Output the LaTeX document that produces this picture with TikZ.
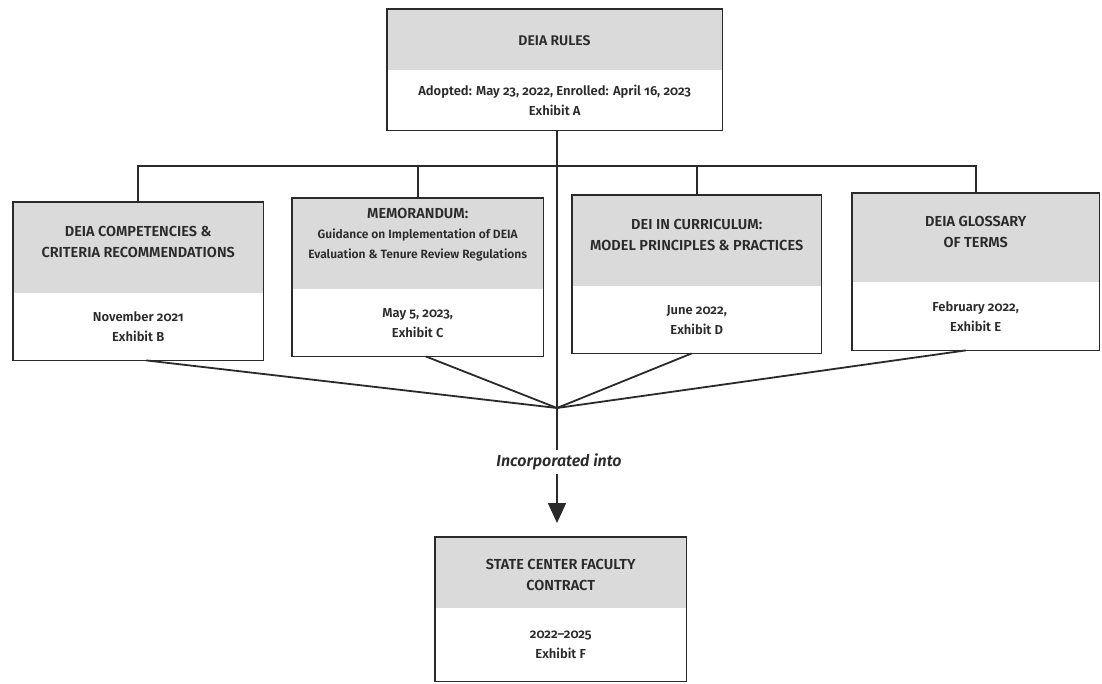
\documentclass[tikz,border=0pt]{standalone}
\usepackage{fontspec}
\setmainfont{Fira Sans}[Numbers=OldStyle, BoldFont={Fira Sans SemiBold}, BoldItalicFont={Fira Sans SemiBold Italic}]
\usetikzlibrary{arrows.meta,calc}
\definecolor{headgray}{HTML}{DADADA}
\definecolor{ink}{HTML}{2A2A2A}
\tikzset{
  head/.style={fill=headgray, draw=none, anchor=north west, inner sep=0pt, align=center,
    text=ink},
  body/.style={fill=white, draw=none, anchor=north west, inner sep=0pt, align=center,
    font=\bfseries\fontsize{13}{20}\selectfont, text=ink},
  ttl/.style={font=\bfseries\fontsize{14.5}{21}\selectfont, text=ink, align=center, inner sep=0pt},
  frame/.style={draw=ink, line width=1.8pt},
  conn/.style={draw=ink, line width=1.8pt},
}
\begin{document}
\begin{tikzpicture}[x=1pt,y=-1pt]
\useasboundingbox (0,0) rectangle (1102,683);
\fill[white] (0,0) rectangle (1102,683);
% top box
\node[head, minimum width=335pt, minimum height=61pt] (toph) at (387,9) {};
\node[ttl, font=\bfseries\fontsize{14}{17}\selectfont] (topt) at (554.5,41) {DEIA RULES};
\node[body, minimum width=335pt, minimum height=60pt] (topb) at (387,70) {Adopted: May 23, 2022, Enrolled: April 16, 2023\\Exhibit A};
\draw[frame] (toph.north west) rectangle (topb.south east);
% box 1
\node[head, minimum width=250pt, minimum height=91pt] (b1h) at (13,202) {};
\node[ttl] (b1t) at ($(b1h.center)+(0,-6)$) {DEIA COMPETENCIES \&\\CRITERIA RECOMMENDATIONS};
\node[body, minimum width=250pt, minimum height=67pt] (b1b) at (13,293) {November 2021\\Exhibit B};
\draw[frame] (b1h.north west) rectangle (b1b.south east);
% box 2
\node[head, minimum width=251pt, minimum height=91pt] (b2h) at (292,198) {};
\node[ttl, font=\bfseries\fontsize{14.5}{20}\selectfont] (b2t) at ($(b2h.center)+(0,-9)$) {MEMORANDUM:\\{\fontsize{12}{20}\selectfont Guidance on Implementation of DEIA}\\{\fontsize{12}{20}\selectfont Evaluation \& Tenure Review Regulations}};
\node[body, minimum width=251pt, minimum height=67pt] (b2b) at (292,289) {May 5, 2023,\\Exhibit C};
\draw[frame] (b2h.north west) rectangle (b2b.south east);
% box 3
\node[head, minimum width=249pt, minimum height=91pt] (b3h) at (572,195) {};
\node[ttl] (b3t) at ($(b3h.center)+(0,-6)$) {DEI IN CURRICULUM:\\MODEL PRINCIPLES \& PRACTICES};
\node[body, minimum width=249pt, minimum height=67pt] (b3b) at (572,286) {June 2022,\\Exhibit D};
\draw[frame] (b3h.north west) rectangle (b3b.south east);
% box 4
\node[head, minimum width=247pt, minimum height=89pt] (b4h) at (852,193) {};
\node[ttl] (b4t) at ($(b4h.center)+(0,-6)$) {DEIA GLOSSARY\\OF TERMS};
\node[body, minimum width=247pt, minimum height=68pt] (b4b) at (852,282) {February 2022,\\Exhibit E};
\draw[frame] (b4h.north west) rectangle (b4b.south east);
% bottom box
\node[head, minimum width=251pt, minimum height=71pt] (bh) at (435,537) {};
\node[ttl] (bt) at ($(bh.center)+(0,2)$) {STATE CENTER FACULTY\\CONTRACT};
\node[body, minimum width=251pt, minimum height=73pt] (bb) at (435,608) {2022--2025\\Exhibit F};
\draw[frame] (bh.north west) rectangle (bb.south east);
% connectors
\coordinate (bus) at (0,166);
\coordinate (m) at (557,408);
\draw[conn] (b1h.north) -- (b1h.north |- bus) -- (b4h.north |- bus) -- (b4h.north);
\draw[conn] (b2h.north) -- (b2h.north |- bus);
\draw[conn] (b3h.north) -- (b3h.north |- bus);
\draw[conn] (topb.south -| m) -- (m);
\draw[conn] ($(b1b.south)+(8,0)$) -- (m);
\draw[conn] ($(b2b.south)+(8,0)$) -- (m);
\draw[conn] ($(b3b.south)+(-5,0)$) -- (m);
\draw[conn] ($(b4b.south)+(-10,0)$) -- (m);
\node[font=\bfseries\itshape\fontsize{16}{18}\selectfont, text=ink, inner sep=0pt, minimum height=24pt] (lbl) at (559,462) {Incorporated into};
\draw[conn] (m) -- (lbl.north -| m);
\draw[conn, -{Triangle[length=20pt,width=18pt]}, shorten >=14pt] (lbl.south -| m) -- (bh.north -| m);
\end{tikzpicture}
\end{document}
